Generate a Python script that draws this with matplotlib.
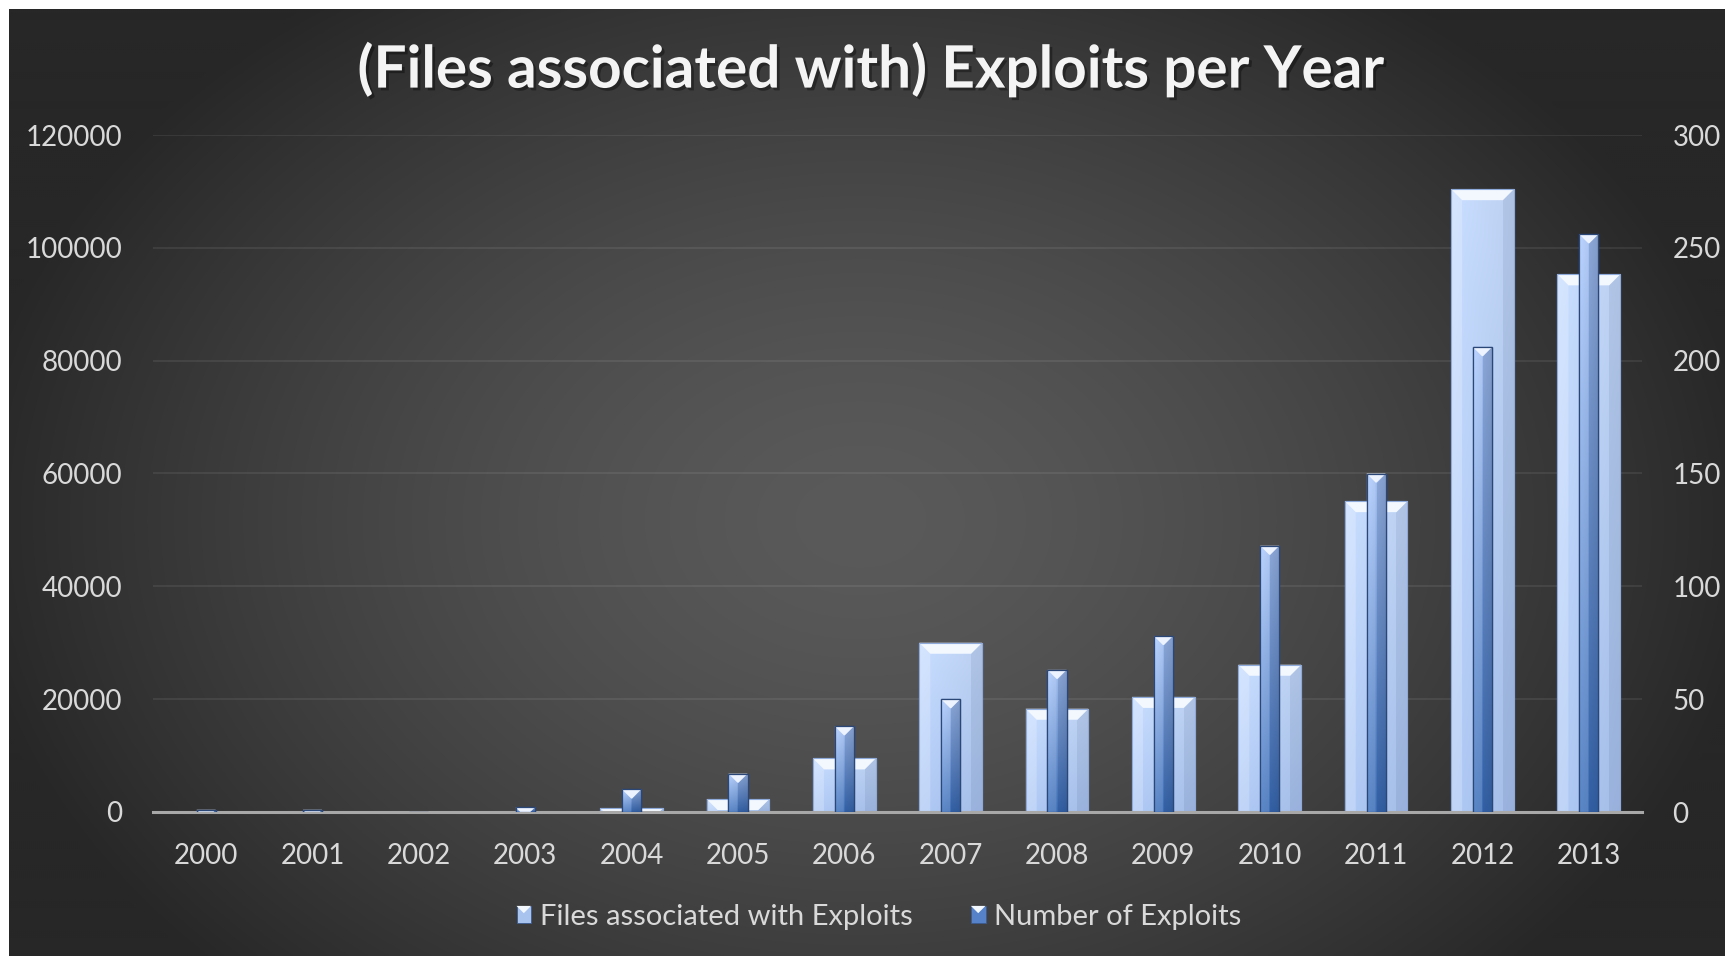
import numpy as np
import matplotlib
matplotlib.use("Agg")
import matplotlib.pyplot as plt
from matplotlib.patches import Polygon, Rectangle
from matplotlib.transforms import IdentityTransform
from matplotlib.legend_handler import HandlerBase
from matplotlib.colors import to_rgb
import matplotlib.patheffects as pe

# ---------------- data ----------------
years = ["2000", "2001", "2002", "2003", "2004", "2005", "2006",
         "2007", "2008", "2009", "2010", "2011", "2012", "2013"]
files_assoc = [0, 0, 0, 0, 650, 2300, 9500, 30000, 18300, 20400,
               26100, 55100, 110400, 95300]
num_exploits = [1, 1, 0, 2, 10, 17, 38, 50, 63, 78, 118, 150, 206, 256]
left_ticks = [0, 20000, 40000, 60000, 80000, 100000, 120000]
right_ticks = [0, 50, 100, 150, 200, 250, 300]
series_names = ["Files associated with Exploits", "Number of Exploits"]
title_text = "(Files associated with) Exploits per Year"

# ---------------- figure ----------------
W, H, DPI = 1725, 956, 100
plt.rcParams['font.family'] = ['Lato', 'DejaVu Sans']
fig = plt.figure(figsize=(W / DPI, H / DPI), dpi=DPI, facecolor='white')

# radial dark background (with thin white margin at top/left)
M = 9
bg = fig.add_axes([M / W, 0, 1 - M / W, 1 - M / H], zorder=-10)
bw, bh = W - M, H - M
yy, xx = np.mgrid[0:bh:2, 0:bw:2].astype(float)
cx, cy = 860 - M, 520 - M
r = np.sqrt(((xx - cx) / 900.0) ** 2 + ((yy - cy) / 650.0) ** 2)
t = np.clip(r, 0, 1) ** 1.5
c0, c1 = 0x5a / 255, 0x27 / 255
g = c0 + (c1 - c0) * t
bg.imshow(np.dstack([g, g, g]), aspect='auto', extent=[0, 1, 0, 1],
          origin='upper', interpolation='bilinear')
bg.axis('off')

# main axes
ax = fig.add_axes([153 / W, 1 - 812 / H, (1642 - 153) / W, (812 - 135) / H])
ax.set_facecolor('none')
ax2 = ax.twinx()
ax2.set_facecolor('none')

x = np.arange(len(years))
TXT = '#d9d9d9'
FS = 20

fb = ax.bar(x, files_assoc, width=0.59, color='#b4cbf3', edgecolor='#8eaadb',
            linewidth=0.8, zorder=2)
nb = ax2.bar(x, num_exploits, width=0.18, color='#6f94d6', edgecolor='#2b4778',
             linewidth=0.9, zorder=2)

ax.set_xlim(-0.5, len(years) - 0.5)
ax.set_ylim(0, 120000)
ax2.set_ylim(0, 300)
ax.set_xticks(x)
ax.set_xticklabels(years)
ax.set_yticks(left_ticks)
ax.set_yticklabels([str(v) for v in left_ticks])
ax2.set_yticks(right_ticks)
ax2.set_yticklabels([str(v) for v in right_ticks])

for s in ax.spines.values():
    s.set_visible(False)
for s in ax2.spines.values():
    s.set_visible(False)
ax.spines['bottom'].set_visible(True)
ax.spines['bottom'].set_color('#a8a8a8')
ax.spines['bottom'].set_linewidth(2.2)
ax.spines['bottom'].set_zorder(5)

ax.tick_params(axis='both', length=0, colors=TXT, labelsize=FS)
ax.tick_params(axis='y', pad=22)
ax.tick_params(axis='x', pad=22)
ax2.tick_params(axis='y', length=0, colors=TXT, labelsize=FS, pad=22)
ax.grid(axis='y', color='white', alpha=0.09, linewidth=1.2)
ax.set_axisbelow(True)


def lerp(a, b, t):
    a = np.array(to_rgb(a)); b = np.array(to_rgb(b))
    return a[None, None, :] + (b - a)[None, None, :] * t[..., None]


def gradient_fill(axis, patch, bottom_c, top_c, side=0.08):
    bx, by = patch.get_x(), patch.get_y()
    w, h = patch.get_width(), patch.get_height()
    if h <= 0:
        return
    v = np.linspace(0, 1, 64)[:, None] * np.ones((1, 16))
    u = np.ones((64, 1)) * np.linspace(0, 1, 16)[None, :]
    img = lerp(bottom_c, top_c, v)
    img = np.clip(img * (1 + side * (0.5 - u))[..., None], 0, 1)
    im = axis.imshow(img, extent=[bx, bx + w, by, by + h], origin='lower',
                     aspect='auto', interpolation='bilinear',
                     zorder=patch.get_zorder() + 0.1)
    im.set_clip_path(patch)


def bevel(axis, patch, b0, top_col, left_alpha, right_alpha, z):
    bx, by = patch.get_x(), patch.get_y()
    w, h = patch.get_width(), patch.get_height()
    if h <= 0:
        return
    (X0, Y0), (X1, Y1) = axis.transData.transform([(bx, by), (bx + w, by + h)])
    b = min(b0, (X1 - X0) / 2.0 - 0.5, Y1 - Y0)
    top = Polygon([(X0, Y1), (X1, Y1), (X1 - b, Y1 - b), (X0 + b, Y1 - b)],
                  closed=True, facecolor=top_col, edgecolor='none',
                  transform=IdentityTransform(), zorder=z)
    left = Polygon([(X0, Y1), (X0 + b, Y1 - b), (X0 + b, Y0), (X0, Y0)],
                   closed=True, facecolor='white', alpha=left_alpha,
                   edgecolor='none', transform=IdentityTransform(), zorder=z)
    right = Polygon([(X1, Y1), (X1, Y0), (X1 - b, Y0), (X1 - b, Y1 - b)],
                    closed=True, facecolor='#0d2350', alpha=right_alpha,
                    edgecolor='none', transform=IdentityTransform(), zorder=z)
    for p in (left, right, top):
        axis.add_artist(p)
    edge = Rectangle((X0, Y0), X1 - X0, Y1 - Y0, facecolor='none',
                     edgecolor=patch.get_edgecolor(), linewidth=patch.get_linewidth(),
                     transform=IdentityTransform(), zorder=z + 0.1)
    axis.add_artist(edge)


for p in fb:
    gradient_fill(ax, p, '#aac4ef', '#c3d8f9', side=0.06)
    bevel(ax, p, 11, '#f3f8ff', 0.22, 0.08, 2.5)
for p in nb:
    gradient_fill(ax2, p, '#3a6bb3', '#a3bff0', side=0.14)
    bevel(ax2, p, 10, '#eef4ff', 0.15, 0.15, 2.5)

# restore limits after imshow
ax.set_xlim(-0.5, len(years) - 0.5)
ax.set_ylim(0, 120000)
ax2.set_ylim(0, 300)


# ---------------- legend ----------------
class BevelHandler(HandlerBase):
    def __init__(self, face):
        super().__init__()
        self.face = face

    def create_artists(self, legend, orig_handle, xdescent, ydescent,
                       width, height, fontsize, trans):
        x0, y0 = -xdescent, -ydescent
        rect = Rectangle((x0, y0), width, height, facecolor=self.face,
                         edgecolor='#3b5a8f', linewidth=0.6, transform=trans)
        tri = Polygon([(x0, y0 + height), (x0 + width, y0 + height),
                       (x0 + width / 2, y0 + height - 0.5 * width)],
                      closed=True, facecolor='#f3f8ff', edgecolor='none',
                      transform=trans)
        return [rect, tri]


h1 = Rectangle((0, 0), 1, 1)
h2 = Rectangle((0, 0), 1, 1)
leg = fig.legend([h1, h2], series_names, loc='center',
                 bbox_to_anchor=(879 / W, 1 - 917 / H), ncol=2, frameon=False,
                 fontsize=21, labelcolor=TXT, handlelength=0.5, handleheight=0.55,
                 handletextpad=0.3, columnspacing=2.0,
                 handler_map={h1: BevelHandler('#a9c3ef'), h2: BevelHandler('#5582c8')})

# ---------------- title ----------------
title = fig.text(871 / W, 1 - 70 / H, title_text, ha='center', va='center',
                 fontsize=36, fontweight='bold', color='#f4f4f4')
renderer = fig.canvas.get_renderer()
tw = title.get_window_extent(renderer).width
title.set_fontsize(36 * 1026.0 / tw)
title.set_path_effects([pe.SimplePatchShadow(offset=(2, -2),
                                             shadow_rgbFace='black', alpha=0.35),
                        pe.Normal()])

fig.savefig('out.png', dpi=DPI, facecolor='white')
